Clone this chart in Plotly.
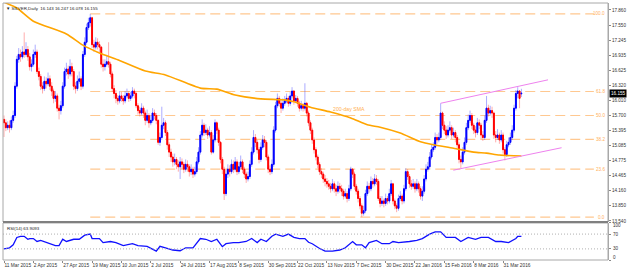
import plotly.graph_objects as go

# ---------------- data ----------------
O = [15.62,15.55,15.45,15.50,15.45,15.60,15.70,16.30,16.85,16.95,
     16.90,17.00,16.95,17.05,16.90,16.70,16.75,16.95,17.00,16.60,
     16.50,16.30,16.25,16.40,16.35,16.45,16.30,16.20,16.05,16.10,
     15.85,15.80,15.90,16.30,16.60,16.65,16.55,16.70,16.60,16.30,
     16.25,16.40,16.45,16.30,16.95,17.20,17.50,17.60,17.70,17.15,
     17.10,17.20,17.15,17.10,16.75,16.70,16.75,16.80,16.75,16.55,
     16.25,16.15,16.05,16.00,16.10,16.05,16.00,16.10,16.15,16.05,
     16.10,16.20,16.15,15.90,15.80,15.75,15.85,15.75,15.60,15.70,
     15.55,15.60,15.75,15.70,15.60,15.15,15.25,15.50,15.55,15.35,
     15.10,14.95,14.85,14.75,14.80,14.70,14.65,14.75,14.70,14.60,
     14.70,14.65,14.55,14.60,14.50,14.55,14.75,14.95,15.30,15.50,
     15.35,15.40,15.30,15.35,14.95,15.20,15.55,15.40,15.15,14.80,
     14.60,14.10,14.50,14.60,14.55,14.70,14.60,14.75,14.55,14.65,
     14.75,14.60,14.50,14.40,14.45,14.70,14.95,15.25,15.15,15.00,
     14.80,15.05,15.20,15.15,14.85,14.60,14.55,14.70,15.40,15.90,
     16.05,15.95,15.85,15.95,16.00,16.05,15.95,16.10,16.20,16.00,
     16.05,15.95,15.85,15.90,15.85,15.95,15.75,15.55,15.40,15.20,
     15.00,14.85,14.70,14.55,14.50,14.40,14.35,14.30,14.25,14.20,
     14.30,14.20,14.15,14.25,14.20,14.15,14.05,14.10,14.00,14.20,
     14.60,14.50,14.25,14.15,14.00,13.85,13.70,13.75,14.10,14.25,
     14.20,14.35,14.30,14.40,14.35,14.00,13.90,13.95,13.90,14.00,
     13.95,14.10,14.30,13.95,13.85,13.80,14.00,14.05,13.95,14.20,
     14.55,14.45,14.30,14.25,14.30,14.20,14.30,14.20,14.05,14.15,
     14.40,14.60,14.65,14.85,15.00,15.05,15.25,15.20,15.25,15.75,
     15.50,15.40,15.30,15.40,15.45,15.30,15.35,15.25,15.10,14.80,
     14.75,14.95,15.15,15.45,15.60,15.70,15.50,15.40,15.35,15.55,
     15.50,15.30,15.25,15.60,15.85,15.75,15.80,15.75,15.30,15.25,
     15.30,15.20,15.30,15.00,14.90,15.10,15.15,15.25,15.40,15.85,
     16.15,16.20,16.143]
H = [15.70,15.62,15.58,15.60,15.68,15.80,16.38,16.92,17.08,17.05,
     17.12,17.40,17.20,17.12,16.98,16.85,17.05,17.15,17.05,16.68,
     16.55,16.38,16.50,16.48,16.58,16.52,16.38,16.25,16.20,16.15,
     15.92,16.00,16.38,16.68,16.78,16.72,16.85,16.78,16.65,16.38,
     16.52,16.60,16.50,17.02,17.30,17.58,17.70,17.78,17.72,17.25,
     17.30,17.28,17.22,17.12,16.85,16.85,16.92,17.20,16.80,16.60,
     16.32,16.22,16.12,16.20,16.18,16.12,16.20,16.25,16.20,16.18,
     16.28,16.25,16.18,15.95,15.88,15.95,15.90,15.80,15.82,15.75,
     15.70,15.85,15.82,15.75,15.62,15.35,15.88,15.65,15.60,15.40,
     15.15,15.02,14.92,14.92,14.85,14.78,14.85,14.82,14.75,14.80,
     14.78,14.70,14.70,14.65,14.65,14.85,15.05,15.38,15.62,15.55,
     15.52,15.45,15.48,15.40,15.30,15.62,15.58,15.45,15.18,14.85,
     14.65,14.58,14.70,14.68,14.80,14.78,14.85,14.80,14.75,14.88,
     14.80,14.65,14.55,14.55,14.78,15.05,15.40,15.32,15.20,15.05,
     15.15,15.30,15.28,15.20,14.90,14.68,14.80,15.48,15.98,16.15,
     16.10,16.00,16.05,16.10,16.15,16.10,16.18,16.28,16.22,16.12,
     16.10,16.00,16.00,15.95,16.36,15.98,15.80,15.60,15.45,15.25,
     15.05,14.90,14.75,14.62,14.55,14.48,14.42,14.38,14.32,14.40,
     14.35,14.28,14.35,14.32,14.28,14.20,14.20,14.15,14.28,14.65,
     14.62,14.55,14.30,14.20,14.05,13.90,13.85,14.18,14.35,14.32,
     14.45,14.42,14.50,14.48,14.40,14.05,14.05,14.00,14.10,14.05,
     14.20,14.38,14.32,14.00,13.90,14.08,14.15,14.10,14.28,14.62,
     14.60,14.50,14.38,14.40,14.35,14.40,14.35,14.25,14.25,14.48,
     14.70,14.75,14.95,15.10,15.15,15.35,15.32,15.35,15.95,15.78,
     15.58,15.48,15.50,15.58,15.50,15.45,15.40,15.30,15.15,14.88,
     15.05,15.25,15.55,15.72,15.80,15.75,15.55,15.48,15.65,15.62,
     15.55,15.38,15.70,16.10,15.92,15.90,15.88,15.78,15.38,15.42,
     15.35,15.40,15.35,15.05,15.18,15.25,15.35,15.50,15.92,16.22,
     16.28,16.22,16.247]
L = [15.26,15.38,15.40,15.35,15.40,15.55,15.65,16.25,16.78,16.80,
     16.85,16.88,16.90,16.82,16.62,16.60,16.70,16.88,16.55,16.42,
     16.22,16.15,16.20,16.25,16.30,16.22,16.10,15.95,15.98,15.78,
     15.62,15.72,15.85,16.25,16.52,16.45,16.50,16.50,16.22,16.15,
     16.20,16.35,16.22,16.25,16.90,17.15,17.45,17.52,17.08,17.00,
     17.05,17.05,17.00,16.68,16.60,16.62,16.70,16.68,16.48,16.18,
     16.05,15.95,15.92,15.95,15.98,15.92,15.95,16.05,15.98,16.00,
     16.05,16.05,15.85,15.72,15.68,15.70,15.65,15.50,15.55,15.45,
     15.50,15.55,15.62,15.52,15.10,15.08,15.20,15.42,15.28,15.00,
     14.85,14.75,14.65,14.68,14.60,14.55,14.40,14.60,14.52,14.55,
     14.55,14.45,14.48,14.42,14.45,14.50,14.70,14.90,15.25,15.28,
     15.30,15.22,15.25,14.90,14.92,15.15,15.32,15.08,14.72,14.50,
     13.97,14.05,14.42,14.45,14.50,14.52,14.55,14.48,14.50,14.60,
     14.52,14.42,14.32,14.35,14.40,14.65,14.90,15.05,14.92,14.72,
     14.75,15.00,15.05,14.78,14.52,14.48,14.50,14.65,15.35,15.85,
     15.88,15.75,15.80,15.90,15.95,15.88,15.90,16.05,15.92,15.95,
     15.88,15.78,15.80,15.78,15.80,15.68,15.48,15.32,15.12,14.92,
     14.78,14.62,14.48,14.42,14.32,14.25,14.22,14.18,14.12,14.15,
     14.12,14.05,14.10,14.12,14.05,13.98,14.00,13.92,13.95,14.15,
     14.42,14.18,14.08,13.92,13.78,13.62,13.65,13.70,14.05,14.12,
     14.15,14.22,14.25,14.28,13.95,13.82,13.85,13.82,13.85,13.88,
     13.90,14.05,13.88,13.78,13.72,13.75,13.95,13.88,13.90,14.15,
     14.38,14.22,14.18,14.20,14.12,14.15,14.12,13.98,13.95,14.10,
     14.35,14.55,14.60,14.80,14.95,15.00,15.12,15.15,15.20,15.42,
     15.32,15.22,15.25,15.35,15.22,15.25,15.15,15.02,14.72,14.62,
     14.70,14.90,15.10,15.40,15.55,15.42,15.32,15.25,15.30,15.42,
     15.22,15.18,15.20,15.55,15.68,15.70,15.65,15.22,15.15,15.20,
     15.12,15.15,14.92,14.78,14.85,15.05,15.10,15.20,15.35,15.80,
     16.05,15.85,16.078]
C = [15.55,15.45,15.50,15.45,15.60,15.70,16.30,16.85,16.95,16.90,
     17.00,16.95,17.05,16.90,16.70,16.75,16.95,17.00,16.60,16.50,
     16.30,16.25,16.40,16.35,16.45,16.30,16.20,16.05,16.10,15.85,
     15.80,15.90,16.30,16.60,16.65,16.55,16.70,16.60,16.30,16.25,
     16.40,16.45,16.30,16.95,17.20,17.50,17.60,17.70,17.15,17.10,
     17.20,17.15,17.10,16.75,16.70,16.75,16.80,16.75,16.55,16.25,
     16.15,16.05,16.00,16.10,16.05,16.00,16.10,16.15,16.05,16.10,
     16.20,16.15,15.90,15.80,15.75,15.85,15.75,15.60,15.70,15.55,
     15.60,15.75,15.70,15.60,15.15,15.25,15.50,15.55,15.35,15.10,
     14.95,14.85,14.75,14.80,14.70,14.65,14.75,14.70,14.60,14.70,
     14.65,14.55,14.60,14.50,14.55,14.75,14.95,15.30,15.50,15.35,
     15.40,15.30,15.35,14.95,15.20,15.55,15.40,15.15,14.80,14.60,
     14.10,14.50,14.60,14.55,14.70,14.60,14.75,14.55,14.65,14.75,
     14.60,14.50,14.40,14.45,14.70,14.95,15.25,15.15,15.00,14.80,
     15.05,15.20,15.15,14.85,14.60,14.55,14.70,15.40,15.90,16.05,
     15.95,15.85,15.95,16.00,16.05,15.95,16.10,16.20,16.00,16.05,
     15.95,15.85,15.90,15.85,15.95,15.75,15.55,15.40,15.20,15.00,
     14.85,14.70,14.55,14.50,14.40,14.35,14.30,14.25,14.20,14.30,
     14.20,14.15,14.25,14.20,14.15,14.05,14.10,14.00,14.20,14.60,
     14.50,14.25,14.15,14.00,13.85,13.70,13.75,14.10,14.25,14.20,
     14.35,14.30,14.40,14.35,14.00,13.90,13.95,13.90,14.00,13.95,
     14.10,14.30,13.95,13.85,13.80,14.00,14.05,13.95,14.20,14.55,
     14.45,14.30,14.25,14.30,14.20,14.30,14.20,14.05,14.15,14.40,
     14.60,14.65,14.85,15.00,15.05,15.25,15.20,15.25,15.75,15.50,
     15.40,15.30,15.40,15.45,15.30,15.35,15.25,15.10,14.80,14.75,
     14.95,15.15,15.45,15.60,15.70,15.50,15.40,15.35,15.55,15.50,
     15.30,15.25,15.60,15.85,15.75,15.80,15.75,15.30,15.25,15.30,
     15.20,15.30,15.00,14.90,15.10,15.15,15.25,15.40,15.85,16.15,
     16.20,16.05,16.155]

sma_x = [0, 7, 16, 34, 43, 52, 62, 77, 88, 107, 116, 126, 140, 153, 158, 167,
         178, 189, 198, 205, 216, 227, 234, 245, 256, 263, 270, 282]
sma_v = [18.02, 17.90, 17.63, 17.37, 17.14, 16.98, 16.84, 16.61, 16.53, 16.26,
         16.24, 16.12, 16.04, 16.02, 15.98, 15.87, 15.77, 15.65, 15.51, 15.46,
         15.34, 15.16, 15.10, 15.03, 14.95, 14.93, 14.89, 14.87]

rsi_x = [0, 3, 5, 7, 9, 11, 13, 14, 16, 18, 20, 23, 28, 30, 32, 34, 38, 41, 44, 47,
         48, 52, 54, 58, 61, 65, 70, 73, 78, 83, 85, 88, 92, 96, 99, 103, 107, 110,
         113, 116, 119, 121, 125, 128, 132, 135, 138, 140, 143, 146, 148, 152, 155,
         158, 161, 164, 166, 168, 172, 175, 179, 183, 186, 190, 192, 195, 197, 199,
         203, 206, 210, 212, 215, 221, 225, 228, 232, 235, 238, 241, 246, 249, 253,
         257, 260, 264, 268, 271, 275, 279, 280, 282]
rsi_v = [30, 33, 41, 61, 64, 64, 56, 58, 58, 50, 53, 47, 39, 39, 56, 50, 56, 56, 67, 70,
         58, 58, 47, 50, 47, 39, 44, 39, 37, 24, 37, 33, 27, 25, 33, 33, 58, 56,
         50, 56, 36, 44, 47, 47, 50, 58, 47, 56, 50, 64, 70, 64, 70,
         61, 58, 58, 48, 44, 31, 24, 24, 27, 33, 50, 41, 41, 33, 47,
         53, 44, 44, 50, 47, 50, 53, 58, 70, 76, 76, 61, 61, 50, 61,
         56, 61, 61, 50, 50, 47, 58, 64, 63.9093]

fib_high = 17.78
fib_low = 13.62
fib_start_bar = 47
fib_ratios = [1.0, 0.618, 0.5, 0.382, 0.236, 0.0]

chan_up_x = [238.0, 296.5]
chan_up_y = [15.95, 16.43]
chan_dn_x = [244.9, 303.9]
chan_dn_y = [14.58, 15.04]

price_ticks = [17.860, 17.550, 17.245, 16.935, 16.625, 16.320, 16.010, 15.700,
               15.395, 15.085, 14.775, 14.465, 14.160, 13.850, 13.540]
rsi_ticks = [100, 70, 30, 0]
date_ticks = list(range(0, 273, 16))
date_labels = ['11 Mar 2015', '2 Apr 2015', '27 Apr 2015', '19 May 2015', '10 Jun 2015',
               '2 Jul 2015', '24 Jul 2015', '17 Aug 2015', '8 Sep 2015', '30 Sep 2015',
               '22 Oct 2015', '13 Nov 2015', '7 Dec 2015', '30 Dec 2015', '22 Jan 2016',
               '15 Feb 2016', '8 Mar 2016', '31 Mar 2016']

# ---------------- figure ----------------
bars = list(range(len(C)))
XR = [-0.55, 329.2]
FONT = "Liberation Sans, Arial, sans-serif"
PLOT_H = 272 - 3 - 12  # plot-area height in px

fig = go.Figure()

# wicks (pale)
fig.add_trace(go.Candlestick(
    x=bars, open=O, high=H, low=L, close=C, xaxis='x', yaxis='y',
    increasing=dict(line=dict(color='rgba(70,70,255,0.45)', width=1), fillcolor='rgba(70,70,255,0.45)'),
    decreasing=dict(line=dict(color='rgba(255,70,70,0.45)', width=1), fillcolor='rgba(255,70,70,0.45)'),
    whiskerwidth=0, showlegend=False, hoverinfo='skip'))
# bodies (solid)
body_hi = [max(o, c) for o, c in zip(O, C)]
body_lo = [min(o, c) for o, c in zip(O, C)]
fig.add_trace(go.Candlestick(
    x=bars, open=O, high=body_hi, low=body_lo, close=C, xaxis='x', yaxis='y',
    increasing=dict(line=dict(color='#0000FF', width=1), fillcolor='#0000FF'),
    decreasing=dict(line=dict(color='#FF0000', width=1), fillcolor='#FF0000'),
    whiskerwidth=0, showlegend=False, hoverinfo='skip'))

# 200-day SMA
fig.add_trace(go.Scatter(x=sma_x, y=sma_v, mode='lines', xaxis='x', yaxis='y',
                         line=dict(color='#FFA500', width=1.6, shape='spline', smoothing=0.6),
                         showlegend=False, hoverinfo='skip'))
# channel
for xs, ys in ((chan_up_x, chan_up_y), (chan_dn_x, chan_dn_y)):
    fig.add_trace(go.Scatter(x=xs, y=ys, mode='lines', xaxis='x', yaxis='y',
                             line=dict(color='#EE82EE', width=1), showlegend=False, hoverinfo='skip'))

# RSI
fig.add_trace(go.Scatter(x=rsi_x, y=rsi_v, mode='lines', xaxis='x2', yaxis='y2',
                         line=dict(color='#1010FF', width=1.3), showlegend=False, hoverinfo='skip'))

shapes = []
annotations = []
for r in fib_ratios:
    lvl = fib_low + r * (fib_high - fib_low)
    shapes.append(dict(type='line', xref='x', yref='y', x0=fib_start_bar, x1=321.5, y0=lvl, y1=lvl,
                       line=dict(color='#FFC890', width=1.2, dash='10px,5px'), layer='below'))
    annotations.append(dict(xref='x', yref='y', x=328.8, y=lvl, xanchor='right', yanchor='middle',
                            text=f"{r*100:.1f}", showarrow=False,
                            font=dict(family=FONT, size=4.6, color='#FFB060')))

for lv in (30, 70):
    shapes.append(dict(type='line', xref='paper', yref='y2', x0=0, x1=1, y0=lv, y1=lv,
                       line=dict(color='#B0B0B0', width=1, dash='1px,2px')))

# panel borders
MAIN_BOT = 0.148
RSI_TOP = 0.144
shapes.append(dict(type='rect', xref='paper', yref='paper', x0=0, x1=1, y0=MAIN_BOT, y1=1,
                   line=dict(color='#A8A8A8', width=1)))
shapes.append(dict(type='rect', xref='paper', yref='paper', x0=0, x1=1, y0=0, y1=RSI_TOP,
                   line=dict(color='#A8A8A8', width=1)))
shapes.append(dict(type='line', xref='paper', yref='paper', x0=0, x1=1, y0=MAIN_BOT, y1=MAIN_BOT,
                   line=dict(color='#808080', width=2)))

# RSI scale labels (MT4 keeps the end labels inside the panel)
rsi_label_shift = {100: -3, 70: 0, 30: 0, 0: 3}
for t in rsi_ticks:
    annotations.append(dict(xref='paper', yref='y2', x=1, y=t, xanchor='left', yanchor='middle',
                            xshift=3, yshift=rsi_label_shift[t], text=str(t), showarrow=False,
                            font=dict(family=FONT, size=4.6, color='#333333')))

annotations += [
    dict(xref='paper', yref='paper', x=0, y=1, xanchor='left', yanchor='top', xshift=1, yshift=-1,
         text='▼ SILVER,Daily  16.143 16.247 16.078 16.155', showarrow=False,
         font=dict(family=FONT, size=4.4, color='#222222')),
    dict(xref='paper', yref='paper', x=0, y=RSI_TOP, xanchor='left', yanchor='top', xshift=2, yshift=-1,
         text='RSI(14) 63.9093', showarrow=False, font=dict(family=FONT, size=4.4, color='#222222')),
    dict(xref='x', yref='y', x=178, y=15.83, xanchor='left', yanchor='middle',
         text='200-day SMA', showarrow=False, font=dict(family=FONT, size=5.2, color='#FFB050')),
    dict(xref='paper', yref='y', x=1, y=C[-1], xanchor='left', yanchor='middle', xshift=1,
         text=f"{C[-1]:.3f}", showarrow=False, bgcolor='black', borderpad=1,
         font=dict(family=FONT, size=4.6, color='white')),
]

fig.update_layout(
    width=628, height=272, margin=dict(l=3, r=20, t=3, b=12),
    paper_bgcolor='white', plot_bgcolor='white',
    font=dict(family=FONT, size=5, color='#333333'),
    showlegend=False, shapes=shapes, annotations=annotations,
    xaxis=dict(domain=[0, 1], anchor='y', range=XR, showticklabels=False, showgrid=False,
               zeroline=False, rangeslider=dict(visible=False), fixedrange=True),
    xaxis2=dict(domain=[0, 1], anchor='y2', range=XR, tickvals=date_ticks, ticktext=date_labels,
                tickangle=0, ticks='outside', ticklen=2, tickcolor='#888888',
                tickfont=dict(size=4.8, color='#333333'),
                ticklabelposition='outside right', showgrid=False, zeroline=False,
                rangeslider=dict(visible=False)),
    yaxis=dict(domain=[MAIN_BOT, 1], anchor='x', range=[13.52, 18.003], side='right',
               tickvals=price_ticks, ticktext=[f"{v:.3f}" for v in price_ticks],
               ticks='outside', ticklen=2, tickcolor='#888888', tickfont=dict(size=4.6, color='#333333'),
               showgrid=False, zeroline=False, showline=True, linecolor='#A8A8A8'),
    yaxis2=dict(domain=[0, RSI_TOP], anchor='x2', range=[0, 100], side='right',
                tickvals=rsi_ticks, showticklabels=False,
                ticks='outside', ticklen=2, tickcolor='#888888',
                showgrid=False, zeroline=False, showline=True, linecolor='#A8A8A8'),
)

fig.write_html("out.html")
